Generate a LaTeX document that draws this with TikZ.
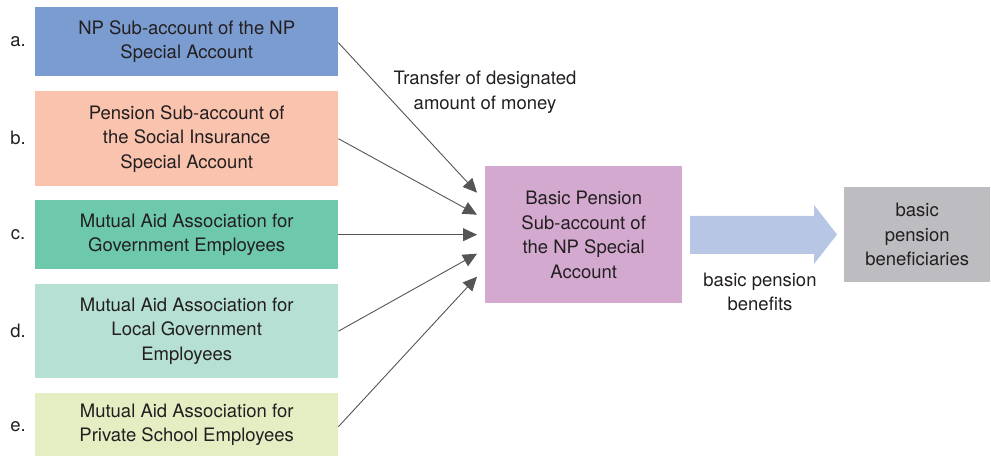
\documentclass[tikz,border=0pt]{standalone}
\usepackage{fontspec}
\setmainfont{TeX Gyre Heros}
\usetikzlibrary{arrows.meta,calc}
\definecolor{ca}{HTML}{7B9CD1}
\definecolor{cb}{HTML}{F9C3AE}
\definecolor{cc}{HTML}{6DC8AC}
\definecolor{cd}{HTML}{B5E0D3}
\definecolor{ce}{HTML}{E5EEC3}
\definecolor{cm}{HTML}{D3A9D0}
\definecolor{cg}{HTML}{BDBDC1}
\definecolor{carrow}{HTML}{B7C6E5}
\definecolor{cline}{HTML}{555555}
\definecolor{ctext}{HTML}{231F20}
\begin{document}
\begin{tikzpicture}[x=1pt,y=-1pt,
  every node/.style={font=\fontsize{18.5}{24.5}\selectfont, text=ctext, inner sep=0pt},
  srcbox/.style={minimum width=303pt, align=center, anchor=north west},
  conn/.style={draw=cline, line width=0.9pt, -{Triangle[length=14pt,width=13pt]}},
  lbl/.style={anchor=center}]
\useasboundingbox (0,0) rectangle (991,457);
\node[srcbox, fill=ca, minimum height=69pt] (a) at (35,7) {NP Sub-account of the NP\\Special Account};
\node[srcbox, fill=cb, minimum height=95pt] (b) at (35,91) {Pension Sub-account of\\the Social Insurance\\Special Account};
\node[srcbox, fill=cc, minimum height=69pt] (c) at (35,200) {Mutual Aid Association for\\Government Employees};
\node[srcbox, fill=cd, minimum height=94pt] (d) at (35,284) {Mutual Aid Association for\\Local Government\\Employees};
\node[srcbox, fill=ce, minimum height=63pt] (e) at (35,393) {Mutual Aid Association for\\Private School Employees};
\node[lbl] (la) at (18,42) {a.};
\node[lbl] (lb) at (18,138) {b.};
\node[lbl] (lc) at (18,235) {c.};
\node[lbl] (ld) at (18,331) {d.};
\node[lbl] (le) at (18,427) {e.};
\node[fill=cm, minimum width=197pt, minimum height=137pt, align=center, anchor=north west] (m) at (485,166) {Basic Pension\\Sub-account of\\the NP Special\\Account};
\node[fill=cg, minimum width=146pt, minimum height=95pt, align=center, anchor=north west] (g) at (844,187) {basic\\pension\\beneficiaries};
\node[align=center, anchor=center] (t1) at (485,92) {Transfer of designated\\amount of money};
\node[align=center, anchor=center] (t2) at (760,292) {basic pension\\benefits};
\coordinate (ea) at ($(m.west)+(-8,-42)$);
\coordinate (eb) at ($(m.west)+(-8,-20)$);
\coordinate (ec) at ($(m.west)+(-8,0)$);
\coordinate (ed) at ($(m.west)+(-8,19)$);
\coordinate (ee) at ($(m.west)+(-8,42)$);
\draw[conn] ($(a.east)+(0,1)$) -- (ea);
\draw[conn] (b.east) -- (eb);
\draw[conn] (c.east) -- (ec);
\draw[conn] (d.east) -- (ed);
\draw[conn] ($(e.east)+(0,2)$) -- (ee);
\fill[carrow] (690,216) -- (814,216) -- (814,205) -- (837,234.5) -- (814,264) -- (814,254) -- (690,254) -- cycle;
\end{tikzpicture}
\end{document}
